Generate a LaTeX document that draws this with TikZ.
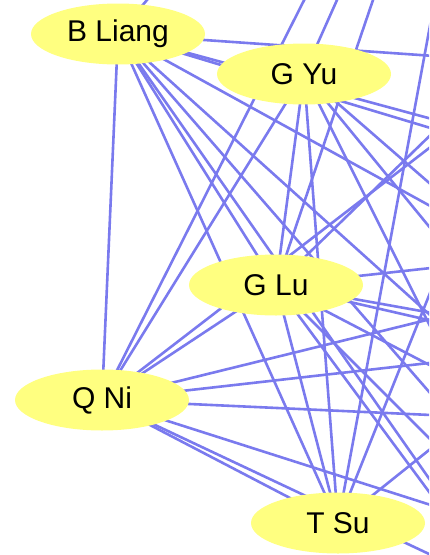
\documentclass[tikz,border=0pt]{standalone}
\usepackage{fontspec}
\setmainfont{Liberation Sans}
\usetikzlibrary{shapes.geometric,backgrounds}
\definecolor{linkblue}{RGB}{122,122,238}
\definecolor{nameyellow}{RGB}{255,255,128}
\begin{document}
\begin{tikzpicture}[x=1pt,y=-1pt,
  author/.style={ellipse,fill=nameyellow,minimum width=174pt,minimum height=61pt,inner sep=0pt,font=\fontsize{30}{36}\selectfont},
  link/.style={linkblue,line width=2.6pt}]
\useasboundingbox (0,0) rectangle (429,555);
\node[author] (liang) at (118,34) {B Liang};
\node[author] (yu) at (304,74) {G Yu};
\node[author] (lu) at (276,285) {G Lu};
\node[author] (ni) at (102,400) {Q Ni};
\node[author] (su) at (338,523) {T Su};
% co-authors cut off by the frame
\coordinate (liangA) at (234,-102);
\coordinate (liangB) at (650,71);
\coordinate (liangC) at (650,178);
\coordinate (liangD) at (650,194);
\coordinate (liangF) at (650,327);
\coordinate (liangG) at (650,513);
\coordinate (liangH) at (650,646);
\coordinate (liangI) at (584,700);
\coordinate (yuA) at (403,-148);
\coordinate (yuB) at (604,674);
\coordinate (yuC) at (714,574);
\coordinate (yuD) at (650,375);
\coordinate (luA) at (421.5,-142.5);
\coordinate (luB) at (650,-78);
\coordinate (luC) at (650,244);
\coordinate (luD) at (650,352);
\coordinate (luE) at (650,371);
\coordinate (luF) at (650,480);
\coordinate (luG) at (650,659);
\coordinate (luH) at (572,685);
\coordinate (niA) at (380,-150);
\coordinate (niB) at (650,-22);
\coordinate (niC) at (650,265);
\coordinate (niD) at (650,338);
\coordinate (niE) at (650,425);
\coordinate (niF) at (650,575);
\coordinate (niG) at (650,658);
\coordinate (suA) at (467.5,-177);
\coordinate (suB) at (578,-77);
\coordinate (suC) at (650,273);
\begin{scope}[on background layer]
\clip (0,0) rectangle (429,555);
\draw[link] (liang.center) -- (ni.center);
\draw[link] (liang.center) -- (lu.center);
\draw[link] (liang.center) -- (su.center);
\draw[link] (yu.center) -- (lu.center);
\draw[link] (yu.center) -- (ni.center);
\draw[link] (yu.center) -- (su.center);
\draw[link] (lu.center) -- (ni.center);
\draw[link] (lu.center) -- (su.center);
\draw[link] (ni.center) -- (su.center);
\draw[link] (liang.center) -- (liangA);
\draw[link] (liang.center) -- (liangB);
\draw[link] (liang.center) -- (liangC);
\draw[link] (liang.center) -- (liangD);
\draw[link] (liang.center) -- (liangF);
\draw[link] (liang.center) -- (liangG);
\draw[link] (liang.center) -- (liangH);
\draw[link] (liang.center) -- (liangI);
\draw[link] (yu.center) -- (yuA);
\draw[link] (yu.center) -- (yuB);
\draw[link] (yu.center) -- (yuC);
\draw[link] (yu.center) -- (yuD);
\draw[link] (lu.center) -- (luA);
\draw[link] (lu.center) -- (luB);
\draw[link] (lu.center) -- (luC);
\draw[link] (lu.center) -- (luD);
\draw[link] (lu.center) -- (luE);
\draw[link] (lu.center) -- (luF);
\draw[link] (lu.center) -- (luG);
\draw[link] (lu.center) -- (luH);
\draw[link] (ni.center) -- (niA);
\draw[link] (ni.center) -- (niB);
\draw[link] (ni.center) -- (niC);
\draw[link] (ni.center) -- (niD);
\draw[link] (ni.center) -- (niE);
\draw[link] (ni.center) -- (niF);
\draw[link] (ni.center) -- (niG);
\draw[link] (su.center) -- (suA);
\draw[link] (su.center) -- (suB);
\draw[link] (su.center) -- (suC);
\end{scope}
\end{tikzpicture}
\end{document}
